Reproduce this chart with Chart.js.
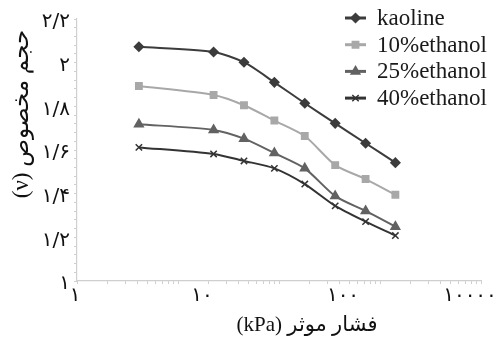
<!DOCTYPE html>
<html>
<head>
<meta charset="utf-8">
<script src="https://cdn.jsdelivr.net/npm/chart.js@4/dist/chart.umd.min.js"></script>
<style>
  html, body { margin: 0; padding: 0; background: #fff; }
  #wrap { width: 502px; height: 345px; position: relative; }
</style>
</head>
<body>
<div id="wrap"><canvas id="c"></canvas></div>
<script>
// Effective pressure (kPa) at each load step
const pressure = [4.1, 22.5, 45, 90, 180, 360, 720, 1420];

// Specific volume for each pore fluid
const seriesNames = ['kaoline', '10%ethanol', '25%ethanol', '40%ethanol'];
const kaoline   = [2.073, 2.049, 2.002, 1.910, 1.814, 1.722, 1.631, 1.542];
const ethanol10 = [1.893, 1.852, 1.805, 1.735, 1.664, 1.531, 1.467, 1.395];
const ethanol25 = [1.718, 1.692, 1.652, 1.586, 1.516, 1.389, 1.321, 1.249];
const ethanol40 = [1.612, 1.582, 1.550, 1.516, 1.444, 1.344, 1.272, 1.208];

// Axis labels
const yTickLabels = ['۱', '۱/۲', '۱/۴', '۱/۶', '۱/۸', '۲', '۲/۲'];
const xTickValues = [1, 10, 100, 10000];
const xTickLabels = ['۱', '۱۰', '۱۰۰', '۱۰۰۰۰'];
const yTitle = 'حجم مخصوص (ν)';
const xTitle = 'فشار موثر (kPa)';

const seriesValues = [kaoline, ethanol10, ethanol25, ethanol40];
const seriesStyle = [
  { color: '#3c3c3c', point: 'rectRot', radius: 4.5 },
  { color: '#a8a8a8', point: 'rect', radius: 4.5 },
  { color: '#626262', point: 'triangle', radius: 5 },
  { color: '#333333', point: 'crossRot', radius: 4.5 }
];

const datasets = seriesNames.map((name, i) => ({
  label: name,
  data: pressure.map((p, j) => ({ x: p, y: seriesValues[i][j] })),
  borderColor: seriesStyle[i].color,
  backgroundColor: seriesStyle[i].color,
  pointBorderColor: seriesStyle[i].color,
  pointBackgroundColor: seriesStyle[i].color,
  pointStyle: seriesStyle[i].point,
  pointRadius: seriesStyle[i].radius,
  pointBorderWidth: 1.5,
  borderWidth: 2,
  tension: 0.25,
  fill: false
}));

const persianFont = '"Liberation Serif", "DejaVu Sans", serif';
const digitFont = '"DejaVu Sans", sans-serif';

// Draws axis titles, shifted decade labels and the in-plot legend
const decorations = {
  id: 'decorations',
  afterDraw(chart, args, opts) {
    const ctx = chart.ctx;
    const xs = chart.scales.x;
    ctx.save();
    ctx.fillStyle = '#111';

    // decade labels under the x axis
    ctx.font = '20px ' + digitFont;
    ctx.textAlign = 'center';
    ctx.textBaseline = 'middle';
    xTickLabels.forEach((t, i) => {
      const px = xs.getPixelForValue(xTickValues[i]) + opts.xLabelShift[i];
      ctx.fillText(t, px, xs.top + 15);
    });

    // x axis title
    ctx.direction = 'rtl';
    ctx.font = '21px ' + persianFont;
    ctx.fillText(xTitle, 307, 325);

    // y axis title (rotated)
    ctx.save();
    ctx.translate(22, 114);
    ctx.rotate(-Math.PI / 2);
    ctx.font = '23px ' + persianFont;
    ctx.fillText(yTitle, 0, 0);
    ctx.restore();
    ctx.direction = 'ltr';

    // legend inside the plot
    ctx.font = '23px "Liberation Serif", serif';
    ctx.textAlign = 'left';
    chart.data.datasets.forEach((ds, i) => {
      const y = 18 + i * 26.7;
      ctx.strokeStyle = ds.borderColor;
      ctx.lineWidth = 3;
      ctx.beginPath();
      ctx.moveTo(345, y);
      ctx.lineTo(366, y);
      ctx.stroke();
      ctx.fillStyle = ds.borderColor;
      ctx.lineWidth = 1.5;
      Chart.helpers.drawPoint(ctx, { pointStyle: ds.pointStyle, radius: ds.pointRadius, rotation: 0, borderWidth: 1.5 }, 355.5, y);
      ctx.fillStyle = '#1a1a1a';
      ctx.fillText(ds.label, 377, y + 1);
    });
    ctx.restore();
  }
};

new Chart(document.getElementById('c'), {
  type: 'line',
  data: { datasets },
  plugins: [decorations],
  options: {
    responsive: true,
    maintainAspectRatio: false,
    animation: false,
    layout: { padding: { top: 19, right: 21, left: 0, bottom: 0 } },
    plugins: {
      legend: { display: false },
      tooltip: { enabled: false },
      decorations: { xLabelShift: [-2, 24, 64, -11] }
    },
    scales: {
      x: {
        type: 'logarithmic',
        min: 1,
        max: 10000,
        afterBuildTicks(scale) {
          const ticks = [];
          for (let d = 1; d < 10000; d *= 10) {
            for (let m = 1; m < 10; m++) ticks.push({ value: m * d });
          }
          ticks.push({ value: 10000 });
          scale.ticks = ticks;
        },
        afterFit(scale) { scale.height = 64; },
        ticks: { autoSkip: false, maxRotation: 0, callback: () => '' },
        grid: { drawOnChartArea: false, tickLength: 3, color: '#cfcfcf', lineWidth: 1 },
        border: { color: '#cfcfcf', width: 1.2 }
      },
      y: {
        min: 1,
        max: 2.2,
        afterBuildTicks(scale) {
          const ticks = [];
          for (let k = 0; k <= 30; k++) ticks.push({ value: 1 + k * 0.04 });
          scale.ticks = ticks;
        },
        afterFit(scale) { scale.width = 77; },
        ticks: {
          autoSkip: false,
          padding: 4,
          labelOffset: 3,
          color: '#111',
          font: { family: digitFont, size: 20 },
          callback(v) {
            const k = (v - 1) / 0.2;
            return Math.abs(k - Math.round(k)) < 1e-6 ? yTickLabels[Math.round(k)] : '';
          }
        },
        grid: { drawOnChartArea: false, tickLength: 3, color: '#cfcfcf', lineWidth: 1 },
        border: { color: '#cfcfcf', width: 1.2 }
      }
    }
  }
});
</script>
</body>
</html>
